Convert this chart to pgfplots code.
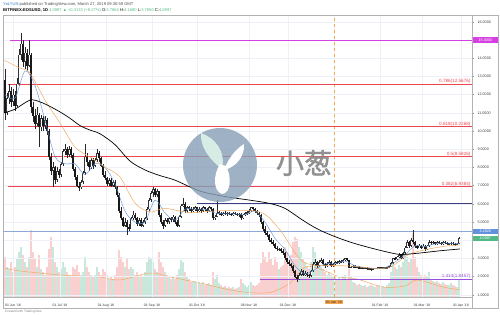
\documentclass[border=0pt]{standalone}
\usepackage{pgfplots}
\pgfplotsset{compat=1.18}
\usepackage{pgfplotstable}
\usepackage{fontspec}
\setmainfont{Liberation Sans}
\newfontfamily\cjk[FakeBold=1.5]{Noto Sans CJK SC}
\definecolor{fibred}{RGB}{238,70,80}
\definecolor{magline}{RGB}{214,64,226}
\definecolor{navyline}{RGB}{60,60,130}
\definecolor{blueline}{RGB}{140,168,216}
\definecolor{bluebox}{RGB}{100,145,220}
\definecolor{purpline}{RGB}{150,80,220}
\definecolor{maorange}{RGB}{240,170,100}
\definecolor{mablue}{RGB}{100,150,220}
\definecolor{volred}{RGB}{246,182,182}
\definecolor{volgreen}{RGB}{172,220,202}
\definecolor{wm}{RGB}{135,158,182}
\definecolor{mint}{RGB}{214,236,228}
\definecolor{tvgreen}{RGB}{83,185,135}
\definecolor{tvblue}{RGB}{50,120,210}
\definecolor{janorange}{RGB}{247,166,80}
\definecolor{gridc}{RGB}{238,241,248}
\definecolor{wick}{RGB}{40,40,40}

\pgfplotstableread{
t o h l c v
5 12.8 13.4 10.6 11.0 40
7 11.0 12.1 10.9 11.8 30
9 11.8 12.6 11.5 12.2 28
11 12.2 12.4 11.3 11.6 35
13 11.6 12.3 11.4 12.0 25
15 12.0 12.2 11.1 11.4 30
17 11.4 12.9 11.3 12.6 38
19 12.6 14.5 12.5 14.2 45
21 14.2 15.4 13.9 14.8 50
23 14.8 15.0 13.5 13.8 42
25 13.8 14.6 13.4 14.3 35
27 14.3 14.5 13.3 13.6 30
29 13.6 15.0 13.5 14.2 40
31 14.2 14.3 11.0 11.3 67
33 11.3 11.6 10.5 10.8 45
35 10.8 11.2 10.1 10.4 38
37 10.4 11.3 10.3 10.9 30
39 10.9 11.0 9.1 10.2 42
41 10.2 10.9 10.0 10.7 28
43 10.7 10.8 10.0 10.3 25
45 10.3 10.8 10.1 10.6 22
47 10.6 10.7 9.8 10.0 30
49 10.0 10.1 8.4 8.6 48
51 8.6 8.8 7.6 7.8 60
53 7.8 8.3 6.9 8.0 50
55 8.0 8.1 7.1 7.3 35
57 7.3 8.0 7.2 7.8 30
59 7.8 7.9 7.4 7.6 25
61 7.6 8.3 7.5 8.2 28
63 8.2 9.0 8.1 8.9 35
65 8.9 9.3 8.7 9.0 30
67 9.0 9.1 8.5 8.7 25
69 8.7 9.2 8.6 9.0 22
71 9.0 9.1 8.5 8.7 20
73 8.7 8.8 7.8 7.9 30
75 7.9 8.0 7.3 7.5 28
77 7.5 7.6 6.9 7.0 32
79 7.0 7.2 6.7 6.9 25
81 6.9 7.3 6.8 7.2 22
83 7.2 7.8 7.1 7.7 25
85 7.7 9.3 7.6 8.6 40
87 8.6 8.8 8.1 8.3 30
89 8.3 8.4 7.8 8.0 25
91 8.0 8.5 7.9 8.4 22
93 8.4 8.5 7.9 8.1 20
95 8.1 8.5 8.0 8.4 22
97 8.4 9.0 8.3 8.8 30
99 8.8 8.9 8.3 8.5 25
101 8.5 8.6 8.0 8.1 22
103 8.1 8.2 7.5 7.6 28
105 7.6 7.8 7.3 7.4 25
107 7.4 7.5 7.0 7.1 22
109 7.1 7.4 7.0 7.3 18
111 7.3 7.4 6.9 7.0 20
113 7.0 7.3 6.9 7.2 18
115 7.2 7.3 6.8 6.9 22
117 6.9 7.0 6.4 6.5 30
119 6.5 6.6 5.5 5.6 47
121 5.6 5.8 5.1 5.2 40
123 5.2 5.3 4.7 4.8 35
125 4.8 5.2 4.7 5.0 30
127 5.0 5.1 4.3 4.7 38
129 4.7 4.9 4.5 4.6 28
131 4.6 5.3 4.6 5.2 30
133 5.2 5.6 5.1 5.4 28
135 5.4 5.5 5.1 5.2 22
137 5.2 5.3 4.8 4.9 25
139 4.9 5.2 4.8 5.1 20
141 5.1 5.2 4.7 4.8 22
143 4.8 5.1 4.7 5.0 20
145 5.0 5.3 4.9 5.2 25
147 5.2 5.8 5.1 5.7 35
149 5.7 6.3 5.6 6.2 40
151 6.2 6.7 6.1 6.6 38
153 6.6 6.9 6.4 6.8 35
155 6.8 6.85 6.4 6.5 28
157 6.5 6.8 6.4 6.7 25
159 6.7 6.7 5.3 5.4 45
161 5.4 5.5 4.9 5.0 35
163 5.0 5.1 4.6 4.8 30
165 4.8 5.2 4.7 5.1 25
167 5.1 5.2 4.9 5.0 22
169 5.0 5.3 4.9 5.2 20
171 5.2 5.3 5.0 5.1 18
173 5.1 5.4 5.0 5.3 20
175 5.3 5.35 4.9 5.0 18
177 5.0 5.1 4.7 4.8 22
179 4.8 5.4 4.75 5.3 28
181 5.3 6.0 5.2 5.9 37
183 5.9 6.3 5.8 6.0 35
185 6.0 6.1 5.5 5.6 25
187 5.6 5.9 5.5 5.8 20
189 5.8 5.9 5.6 5.7 18
191 5.7 5.8 5.5 5.6 15
193 5.6 5.8 5.55 5.7 15
195 5.7 5.9 5.6 5.8 16
197 5.8 5.85 5.5 5.6 14
199 5.6 5.8 5.55 5.7 15
201 5.7 5.75 5.5 5.6 13
203 5.6 5.9 5.55 5.8 15
205 5.8 5.85 5.6 5.7 12
207 5.7 5.75 5.5 5.6 13
209 5.6 5.9 5.55 5.8 14
211 5.8 5.85 5.6 5.7 12
213 5.7 5.75 5.1 5.2 25
215 5.2 5.4 5.1 5.3 18
217 5.3 6.2 5.25 5.5 22
219 5.5 5.6 5.4 5.5 14
221 5.5 5.55 5.35 5.4 12
223 5.4 5.55 5.35 5.5 10
225 5.5 5.6 5.4 5.45 11
227 5.45 5.55 5.35 5.5 9
229 5.5 5.55 5.4 5.45 10
231 5.45 5.5 5.35 5.4 9
233 5.4 5.55 5.35 5.5 10
235 5.5 5.55 5.4 5.45 8
237 5.45 5.5 5.35 5.4 9
239 5.4 5.5 5.3 5.45 10
241 5.45 5.5 5.1 5.2 18
243 5.2 5.45 5.15 5.4 14
245 5.4 5.55 5.35 5.5 12
247 5.5 5.6 5.4 5.5 10
249 5.5 5.7 5.45 5.6 12
251 5.6 5.85 5.55 5.8 15
253 5.8 5.85 5.6 5.7 12
255 5.7 5.75 5.5 5.6 11
257 5.6 5.65 5.4 5.5 12
259 5.5 5.55 5.3 5.4 14
261 5.4 5.45 4.9 5.0 34
263 5.0 5.05 4.5 4.6 45
265 4.6 4.8 4.3 4.4 40
267 4.4 4.5 4.2 4.3 35
269 4.3 4.35 3.9 4.0 45
271 4.0 4.1 3.8 3.9 38
273 3.9 4.0 3.7 3.8 32
275 3.8 3.85 3.5 3.6 40
277 3.6 3.7 3.4 3.5 35
279 3.5 3.6 3.4 3.5 28
281 3.5 3.55 3.3 3.4 30
283 3.4 3.5 3.2 3.3 32
285 3.3 3.35 2.9 3.0 50
287 3.0 3.05 2.7 2.8 45
289 2.8 2.9 2.6 2.7 40
291 2.7 2.75 2.5 2.6 42
293 2.6 2.65 2.2 2.3 55
295 2.3 2.35 1.9 2.0 60
297 2.0 2.1 1.7 1.85 58
299 1.85 2.2 1.8 2.1 50
301 2.1 2.4 2.05 2.3 45
303 2.3 2.35 2.05 2.1 38
305 2.1 2.3 2.05 2.2 35
307 2.2 2.25 2.0 2.1 30
309 2.1 2.15 1.95 2.05 28
311 2.05 2.35 2.0 2.3 35
313 2.3 2.8 2.25 2.7 50
315 2.7 2.95 2.6 2.8 45
317 2.8 2.85 2.5 2.6 35
319 2.6 2.9 2.55 2.8 32
321 2.8 3.0 2.75 2.9 30
323 2.9 2.95 2.6 2.7 28
325 2.7 2.75 2.5 2.6 25
327 2.6 2.8 2.55 2.7 22
329 2.7 2.9 2.65 2.8 25
331 2.8 2.85 2.55 2.6 22
333 2.6 2.75 2.55 2.7 20
335 2.7 2.85 2.65 2.8 22
337 2.8 2.85 2.7 2.75 18
339 2.75 2.9 2.7 2.85 20
341 2.85 2.9 2.75 2.8 18
343 2.8 2.95 2.75 2.9 20
345 2.9 3.05 2.85 3.0 22
347 3.0 3.05 2.85 2.9 18
349 2.9 2.92 2.45 2.5 28
351 2.5 2.6 2.45 2.55 20
353 2.55 2.65 2.5 2.6 15
355 2.6 2.62 2.45 2.5 14
357 2.5 2.6 2.45 2.55 12
359 2.55 2.6 2.4 2.45 13
361 2.45 2.55 2.4 2.5 12
363 2.5 2.55 2.42 2.45 11
365 2.45 2.52 2.4 2.5 12
367 2.5 2.52 2.38 2.42 10
369 2.42 2.5 2.38 2.45 11
371 2.45 2.47 2.33 2.38 12
373 2.38 2.5 2.35 2.45 11
375 2.45 2.5 2.4 2.48 10
377 2.48 2.52 2.4 2.45 11
379 2.45 2.55 2.42 2.5 12
381 2.5 2.55 2.42 2.45 10
383 2.45 2.52 2.4 2.5 11
385 2.5 2.55 2.45 2.48 10
387 2.48 2.55 2.45 2.52 12
389 2.52 2.6 2.48 2.55 14
391 2.55 2.8 2.52 2.75 25
393 2.75 3.05 2.7 3.0 38
395 3.0 3.1 2.9 2.95 30
397 2.95 3.15 2.9 3.1 28
399 3.1 3.3 3.05 3.2 32
401 3.2 3.25 2.95 3.0 30
403 3.0 3.35 2.95 3.3 35
405 3.3 3.7 3.25 3.6 44
407 3.6 4.0 3.55 3.9 40
409 3.9 3.95 3.6 3.7 35
411 3.7 4.1 3.65 4.0 38
413 4.0 4.55 3.8 3.9 64
415 3.9 3.95 3.6 3.7 40
417 3.7 3.75 3.5 3.6 30
419 3.6 3.8 3.55 3.7 25
421 3.7 3.75 3.5 3.6 22
423 3.6 3.8 3.55 3.7 20
425 3.7 3.72 3.4 3.5 22
427 3.5 3.75 3.45 3.7 20
429 3.7 4.0 3.65 3.9 25
431 3.9 3.95 3.75 3.85 18
433 3.85 3.98 3.8 3.9 16
435 3.9 3.92 3.75 3.8 15
437 3.8 3.95 3.75 3.9 16
439 3.9 3.95 3.8 3.85 14
441 3.85 3.9 3.75 3.8 13
443 3.8 3.95 3.75 3.9 15
445 3.9 3.93 3.8 3.85 13
447 3.85 3.88 3.75 3.8 12
449 3.8 3.85 3.72 3.8 12
451 3.8 3.9 3.75 3.85 14
453 3.85 3.88 3.75 3.8 12
455 3.8 3.82 3.7 3.75 11
457 3.75 3.82 3.72 3.79 10
459 3.7864 4.169 3.765 4.0997 18
}\candles

\pgfplotsset{base/.style={scale only axis, width=468pt, height=281pt,
  xmin=4, xmax=472, at={(0pt,0pt)}, anchor=south west},
  nomark/.style={only marks, mark=*, mark size=0pt, mark options={draw=none, fill=none}, forget plot}}

\begin{document}
\begin{tikzpicture}[x=1pt,y=1pt]
\useasboundingbox (-4,-17) rectangle (496,297);

% ---------- volume pane ----------
\begin{axis}[base, ymin=0, ymax=281, axis lines=none, ticks=none]
\addplot[ybar, bar width=1.3pt, bar shift=0pt, fill=volred, draw=none,
  restrict y to domain=0:500]
  table[x=t, y expr={\thisrow{v}+1000*(1-(\thisrow{c}<\thisrow{o}))}] {\candles};
\addplot[ybar, bar width=1.3pt, bar shift=0pt, fill=volgreen, draw=none,
  restrict y to domain=0:500]
  table[x=t, y expr={\thisrow{v}+1000*(\thisrow{c}<\thisrow{o})}] {\candles};
\addplot[maorange, line width=0.5pt, smooth] coordinates {
(5,29) (20,26) (40,24) (60,22) (80,21) (100,20) (120,17) (150,24) (170,20)
(200,14) (230,7) (255,4) (272,5) (290,14) (305,30) (320,28) (340,20)
(357,18) (383,10) (405,11) (417,17) (443,10) (460,7)};
\end{axis}

% ---------- price pane ----------
\begin{axis}[base, ymin=0.88, ymax=16.32,
  axis line style={draw=none},
  ytick={1,2,...,16},
  yticklabels={1.0000,2.0000,3.0000,,5.0000,6.0000,7.0000,8.0000,9.0000,10.0000,11.0000,12.0000,13.0000,14.0000,,16.0000},
  ytick pos=right, yticklabel pos=right, tick align=outside,
  major tick length=2pt,
  ytick style={draw=black!45, line width=0.3pt},
  yticklabel style={font=\fontsize{3.7}{4}\selectfont, text=black!75},
  xtick={13,60,106,152,197,249,288,334,380,422,461},
  xticklabels={01 Jun '18,01 Jul '18,01 Aug '18,01 Sep '18,01 Oct '18,06 Nov '18,01 Dec '18,,01 Feb '19,01 Mar '19,01 Apr '19},
  xtick pos=bottom, xtick style={draw=none},
  xticklabel style={font=\fontsize{3.4}{4}\selectfont, text=black!80, yshift=-1.8pt},
  grid=major, major grid style={draw=gridc, line width=0.35pt}]

% Jan 1 marker
\addplot[janorange, dashed, line width=0.45pt, forget plot] coordinates {(334,0.88) (334,16.32)};

% horizontal drawing lines
\addplot[magline, line width=0.8pt] coordinates {(10,15) (472,15)};
\addplot[fibred, line width=0.8pt] coordinates {(8,12.5676) (472,12.5676)};
\addplot[fibred, line width=0.8pt] coordinates {(8,10.2268) (472,10.2268)};
\addplot[fibred, line width=0.8pt] coordinates {(8,8.5826) (472,8.5826)};
\addplot[fibred, line width=0.8pt] coordinates {(8,6.9384) (472,6.9384)};
\addplot[navyline, line width=0.7pt] coordinates {(197,6.0) (472,6.0)};
\addplot[blueline, line width=0.8pt] coordinates {(4,4.482) (472,4.482)};
\addplot[purpline, line width=0.7pt] coordinates {(260,1.8457) (472,1.8457)};

% candle wicks
\addplot[nomark,
  error bars/.cd, y dir=both, y explicit, error mark=none,
  error bar style={draw=wick, line width=0.35pt}]
  table[x=t, y expr={(\thisrow{h}+\thisrow{l})/2}, y error expr={(\thisrow{h}-\thisrow{l})/2}] {\candles};
% down bodies
\addplot[nomark, restrict y to domain=0:50,
  error bars/.cd, y dir=both, y explicit, error mark=none,
  error bar style={draw=black!90, line width=1.3pt}]
  table[x=t, y expr={(\thisrow{o}+\thisrow{c})/2+100*(1-(\thisrow{c}<\thisrow{o}))},
        y error expr={max(abs(\thisrow{o}-\thisrow{c})/2,0.03)}] {\candles};
% up bodies (hollow)
\addplot[nomark, restrict y to domain=0:50,
  error bars/.cd, y dir=both, y explicit, error mark=none,
  error bar style={draw=black!80, line width=1.3pt}]
  table[x=t, y expr={(\thisrow{o}+\thisrow{c})/2+100*(\thisrow{c}<\thisrow{o})},
        y error expr={max(abs(\thisrow{o}-\thisrow{c})/2,0.03)}] {\candles};
\addplot[nomark, restrict y to domain=0:50,
  error bars/.cd, y dir=both, y explicit, error mark=none,
  error bar style={draw=white, line width=0.5pt}]
  table[x=t, y expr={(\thisrow{o}+\thisrow{c})/2+100*(\thisrow{c}<\thisrow{o})},
        y error expr={max(abs(\thisrow{o}-\thisrow{c})/2-0.04,0)}] {\candles};

% moving averages
\addplot[mablue, line width=0.45pt, smooth] coordinates {
(5,12.0) (15,11.8) (25,13.3) (35,12.5) (45,10.6) (55,8.6) (65,8.2) (75,8.2)
(85,7.6) (95,8.2) (105,8.0) (115,7.1) (125,5.6) (135,5.0) (145,5.0) (155,6.2)
(165,5.5) (175,5.1) (185,5.7) (195,5.7) (205,5.7) (215,5.5) (225,5.45) (235,5.45)
(245,5.4) (255,5.6) (265,5.0) (275,4.1) (285,3.5) (295,2.6) (305,2.15) (315,2.4)
(325,2.7) (335,2.7) (345,2.85) (355,2.6) (365,2.5) (375,2.45) (385,2.5) (395,2.8)
(405,3.2) (415,3.7) (425,3.65) (435,3.8) (445,3.85) (455,3.8) (460,3.85)};
\addplot[maorange, line width=0.5pt, smooth] coordinates {
(4,13.9) (20,13.46) (30,13.19) (45,11.7) (60,10.44) (75,9.12) (90,8.57) (105,8.02)
(120,7.47) (135,6.04) (150,5.55) (165,5.75) (190,5.52) (220,5.62) (260,5.55)
(280,4.56) (300,2.95) (315,2.62) (330,2.62) (350,2.58) (387,2.47) (410,3.25)
(440,3.63) (460,3.74)};
\addplot[black, line width=0.7pt, smooth] coordinates {
(4,11.0) (15,11.2) (30,11.7) (40,11.6) (50,11.35) (60,11.05) (70,10.7) (80,10.3)
(90,10.05) (100,9.85) (115,9.25) (130,8.35) (145,7.86) (160,7.55) (175,7.3)
(200,6.7) (225,6.4) (250,6.2) (270,6.02) (285,5.75) (300,5.2) (310,4.85)
(320,4.55) (333,4.24) (350,3.9) (367,3.63) (385,3.38) (400,3.22) (417,3.28)
(440,3.42) (460,3.52)};

\coordinate (f786) at (axis cs:471,12.5676);
\coordinate (f618) at (axis cs:471,10.2268);
\coordinate (f500) at (axis cs:471,8.5826);
\coordinate (f382) at (axis cs:471,6.9384);
\coordinate (f1414) at (axis cs:471,1.8457);
\coordinate (p15) at (axis cs:472,15);
\coordinate (p448) at (axis cs:472,4.482);
\coordinate (p410) at (axis cs:472,4.0997);
\coordinate (jan) at (axis cs:334,0.88);
\end{axis}

% fib labels
\begin{scope}[every node/.style={anchor=south east, inner sep=0.4pt, font=\fontsize{4.6}{5}\selectfont}]
\node[text=fibred] at (f786) {0.786(12.5676)};
\node[text=fibred] at (f618) {0.618(10.2268)};
\node[text=fibred] at (f500) {0.5(8.5826)};
\node[text=fibred] at (f382) {0.382(6.9384)};
\node[text=purpline] at (f1414) {1.414(1.8457)};
\end{scope}

% watermark
\begin{scope}
\fill[wm, opacity=0.8] (216,132) circle (37);
\fill[mint] (218,128) .. controls (205,138) and (196,150) .. (197,164)
  .. controls (211,159) and (222,146) .. (218,128) -- cycle;
\fill[white] (220,127) .. controls (225,140) and (232,148) .. (240,153)
  .. controls (241,142) and (233,130) .. (220,127) -- cycle;
\fill[white] (216,133) .. controls (209,122) and (209,106) .. (218,103)
  .. controls (227,104) and (228,120) .. (222,131) -- cycle;
\node[font=\cjk\fontsize{28}{28}\selectfont, text=black!47, opacity=0.9] at (300,134) {小葱};
\end{scope}

% frames
\draw[black!30, line width=0.4pt] (-1,-11) rectangle (494,281.3);
\draw[black!30, line width=0.4pt] (468,-11) -- (468,281.3);
\draw[black!30, line width=0.4pt] (-1,0) -- (468,0);

% price scale markers
\begin{scope}[every node/.style={anchor=west, inner xsep=1pt, inner ysep=1.2pt,
   text height=2.8pt, text depth=0.1pt,
   font=\fontsize{3.7}{4}\selectfont, text=white, minimum width=25pt}]
\node[fill=magline] at ([xshift=0.6pt]p15) {15.0000};
\node[fill=bluebox] at ([xshift=0.6pt]p448) {4.4820};
\node[fill=tvgreen] at ([xshift=0.6pt]p410) {4.0997};
\end{scope}
\node[fill=janorange, inner xsep=1.5pt, inner ysep=0.8pt, text=black!85,
  font=\fontsize{3.4}{4}\selectfont] at ([yshift=-5.3pt]jan) {01 Jan '19};

% header
\node[anchor=base west, inner sep=0, font=\fontsize{4.1}{5}\selectfont] at (-1,291.3)
  {\textcolor{tvblue}{YaLYUN} \textcolor{black!70}{published on TradingView.com, March 27, 2019 09:30:59 GMT}};
\node[anchor=base west, inner sep=0, font=\fontsize{4.1}{5}\selectfont] at (-1,285.3)
  {\textbf{BITFINEX:EOSUSD, 1D} \textcolor{tvgreen}{4.0997 ▲ +0.3133 (+8.27\%)} O:\textcolor{tvgreen}{3.7864} H:\textcolor{tvgreen}{4.1690} L:\textcolor{tvgreen}{3.7650} C:\textcolor{tvgreen}{4.0997}};
\node[anchor=base west, inner sep=0, font=\fontsize{3.2}{4}\selectfont, text=black!50] at (1,-15.5)
  {Created with TradingView};
\end{tikzpicture}
\end{document}
